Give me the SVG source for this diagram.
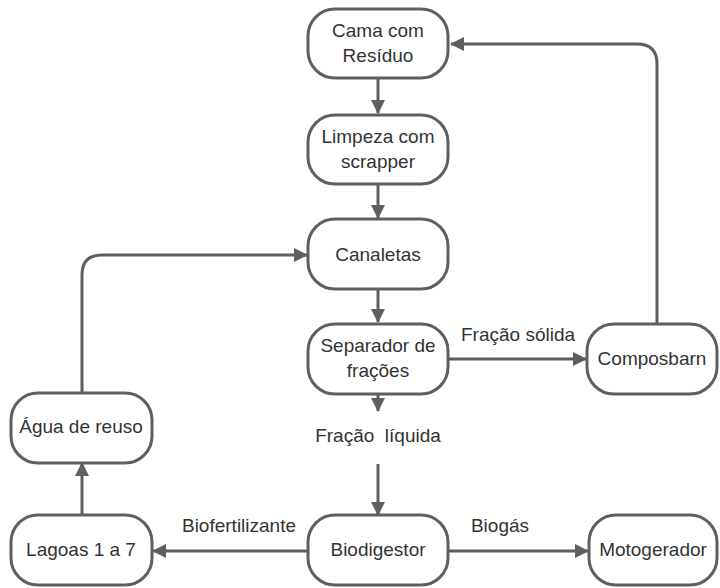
<svg xmlns="http://www.w3.org/2000/svg" width="720" height="588" viewBox="0 0 720 588">
<defs>
<style>
.box{fill:#fff;stroke:#5f5f5f;stroke-width:3}
.t{font-family:"Liberation Sans",Arial,sans-serif;font-size:19px;fill:#333;text-anchor:middle}
.c{fill:none;stroke:#5f5f5f;stroke-width:3}
</style>
<marker id="ah" viewBox="0 0 14 14" refX="13" refY="7" markerWidth="14" markerHeight="14" markerUnits="userSpaceOnUse" orient="auto">
<path d="M0,0 L14,7 L0,14 Z" fill="#5f5f5f"/>
</marker>
</defs>
<rect width="720" height="588" fill="#fff"/>
<g id="connectors">
<path class="c" d="M378,79 V113" marker-end="url(#ah)"/>
<path class="c" d="M378,185 V218" marker-end="url(#ah)"/>
<path class="c" d="M378,289 V322" marker-end="url(#ah)"/>
<path class="c" d="M448,359 H586" marker-end="url(#ah)"/>
<path class="c" d="M657,323 V64 Q657,44 637,44 H451" marker-end="url(#ah)"/>
<path class="c" d="M378,394 V411" marker-end="url(#ah)"/>
<path class="c" d="M378,464 V515" marker-end="url(#ah)"/>
<path class="c" d="M308,551 H153" marker-end="url(#ah)"/>
<path class="c" d="M448,551 H588" marker-end="url(#ah)"/>
<path class="c" d="M82,515 V463" marker-end="url(#ah)"/>
<path class="c" d="M82,393 V275 Q82,255 102,255 H307" marker-end="url(#ah)"/>
<text class="t" x="518" y="341">Fração sólida</text>
<text class="t" x="378" y="442" xml:space="preserve">Fração  líquida</text>
<text class="t" x="239" y="532">Biofertilizante</text>
<text class="t" x="500" y="532">Biogás</text>
</g>
<g id="cama"><rect class="box" x="308" y="9" width="140" height="69" rx="27"/><text class="t" x="378" y="37">Cama com</text><text class="t" x="378" y="62">Resíduo</text></g>
<g id="limpeza"><rect class="box" x="308" y="115" width="140" height="69" rx="27"/><text class="t" x="378" y="143">Limpeza com</text><text class="t" x="378" y="168">scrapper</text></g>
<g id="canaletas"><rect class="box" x="308" y="219" width="140" height="70" rx="27"/><text class="t" x="378" y="261">Canaletas</text></g>
<g id="separador"><rect class="box" x="308" y="324" width="140" height="70" rx="27"/><text class="t" x="378" y="352">Separador de</text><text class="t" x="378" y="377">frações</text></g>
<g id="composbarn"><rect class="box" x="587" y="324" width="130" height="70" rx="27"/><text class="t" x="652" y="365">Composbarn</text></g>
<g id="agua"><rect class="box" x="11" y="393" width="141" height="70" rx="27"/><text class="t" x="81" y="433">Água de reuso</text></g>
<g id="lagoas"><rect class="box" x="11" y="515" width="141" height="70" rx="27"/><text class="t" x="81" y="556">Lagoas 1 a 7</text></g>
<g id="biodigestor"><rect class="box" x="308" y="515" width="140" height="70" rx="27"/><text class="t" x="378" y="556">Biodigestor</text></g>
<g id="motogerador"><rect class="box" x="589" y="515" width="128" height="70" rx="27"/><text class="t" x="653" y="556">Motogerador</text></g>
</svg>
